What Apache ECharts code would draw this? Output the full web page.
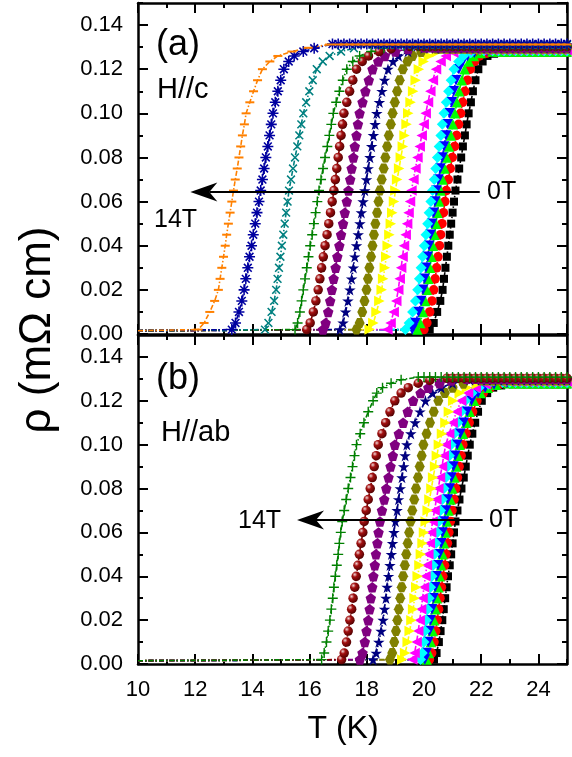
<!DOCTYPE html>
<html>
<head>
<meta charset="utf-8">
<script src="https://cdn.jsdelivr.net/npm/echarts@6/dist/echarts.min.js"></script>
<style>
html,body{margin:0;padding:0;background:#fff;}
#c{width:572px;height:757px;}
</style>
</head>
<body>
<div id="c"></div>
<script>
// ---------------- DATA ----------------
// axis ranges / tick labels
const X_MIN = 10, X_MAX = 25;
const Y_MIN = 0, Y_MAX = 0.15;
const X_MAJOR = 2, X_MINOR = 1;
const Y_MAJOR = 0.02, Y_MINOR = 0.01;

// resistivity levels (mOhm cm) at which the transition points are read
const RHO_LEVELS = [0.002,0.005,0.01,0.015,0.02,0.025,0.03,0.035,0.04,0.045,0.05,0.055,0.06,0.065,0.07,0.075,0.08,0.085,0.09,0.095,0.10,0.105,0.11,0.115,0.12];
const BASE_RHO = 0.0015;
// temperatures of the normal-state (plateau) samples
const PLAT_T = [15.6,15.8,16.0,16.2,16.4,16.6,16.8,17.0,17.2,17.4,17.6,17.8,18.0,18.2,18.4,18.6,18.8,19.0,19.2,19.4,19.6,19.8,20.0,20.2,20.4,20.6,20.8,21.0,21.2,21.4,21.6,21.8,22.0,22.2,22.4,22.6,22.8,23.0,23.2,23.4,23.6,23.8,24.0,24.2,24.4,24.6,24.8,25.0];

// (a) H//c : T (K) at each RHO_LEVELS value, curves from 0T to 14T
const TRANS_A = [
  [20.20,20.34,20.46,20.57,20.65,20.70,20.75,20.80,20.85,20.90,20.95,21.00,21.05,21.10,21.17,21.23,21.30,21.36,21.43,21.49,21.56,21.64,21.71,21.80,21.90],
  [20.00,20.10,20.20,20.28,20.34,20.39,20.44,20.49,20.54,20.58,20.63,20.68,20.73,20.78,20.85,20.92,20.99,21.07,21.14,21.21,21.28,21.35,21.43,21.52,21.62],
  [19.77,19.87,19.96,20.04,20.10,20.15,20.21,20.26,20.31,20.37,20.42,20.47,20.53,20.58,20.65,20.72,20.79,20.87,20.94,21.01,21.08,21.15,21.23,21.32,21.42],
  [19.59,19.70,19.81,19.90,19.97,20.02,20.07,20.13,20.18,20.23,20.28,20.34,20.39,20.44,20.51,20.57,20.64,20.70,20.77,20.83,20.90,20.97,21.04,21.12,21.22],
  [19.35,19.48,19.60,19.70,19.78,19.84,19.90,19.95,20.01,20.07,20.13,20.18,20.24,20.30,20.36,20.41,20.47,20.53,20.59,20.64,20.70,20.78,20.86,20.95,21.05],
  [18.72,18.83,18.94,19.03,19.10,19.15,19.20,19.25,19.30,19.36,19.41,19.46,19.51,19.56,19.63,19.70,19.77,19.85,19.92,19.99,20.06,20.14,20.22,20.31,20.42],
  [18.10,18.23,18.34,18.44,18.52,18.57,18.63,18.68,18.73,18.79,18.84,18.89,18.95,19.00,19.06,19.13,19.19,19.26,19.32,19.39,19.45,19.53,19.62,19.71,19.82],
  [17.64,17.75,17.84,17.92,17.99,18.04,18.09,18.15,18.20,18.25,18.30,18.36,18.41,18.46,18.52,18.59,18.65,18.71,18.77,18.84,18.90,18.98,19.06,19.15,19.26],
  [17.06,17.17,17.26,17.34,17.41,17.47,17.53,17.58,17.64,17.70,17.76,17.81,17.87,17.93,17.99,18.05,18.11,18.17,18.23,18.29,18.35,18.44,18.53,18.62,18.74],
  [16.47,16.56,16.65,16.72,16.78,16.84,16.91,16.97,17.04,17.10,17.17,17.23,17.30,17.36,17.42,17.47,17.53,17.58,17.64,17.69,17.75,17.85,17.95,18.07,18.20],
  [15.90,16.02,16.13,16.22,16.30,16.36,16.42,16.48,16.54,16.61,16.67,16.73,16.79,16.85,16.90,16.95,17.00,17.05,17.10,17.15,17.20,17.30,17.40,17.51,17.64],
  [15.49,15.58,15.66,15.72,15.78,15.84,15.90,15.96,16.02,16.09,16.15,16.21,16.27,16.33,16.40,16.47,16.54,16.62,16.69,16.76,16.83,16.93,17.04,17.16,17.30],
  [14.44,14.56,14.67,14.76,14.83,14.88,14.93,14.98,15.03,15.08,15.13,15.18,15.23,15.28,15.35,15.42,15.49,15.57,15.64,15.71,15.78,15.88,15.99,16.11,16.25],
  [13.28,13.41,13.53,13.63,13.71,13.77,13.84,13.90,13.97,14.03,14.10,14.16,14.23,14.29,14.35,14.41,14.47,14.54,14.60,14.66,14.72,14.80,14.89,14.99,15.10],
  [12.10,12.31,12.51,12.68,12.81,12.87,12.93,12.99,13.05,13.10,13.16,13.22,13.28,13.34,13.40,13.47,13.53,13.59,13.65,13.72,13.78,13.91,14.04,14.18,14.35]
];
// rounding into the normal state: [T, rho] points, the last one is the plateau value
const KNEE_A = [
  [[22.05,0.1235],[22.22,0.1260],[22.45,0.1270],[22.80,0.1275]],
  [[21.77,0.1235],[21.94,0.1260],[22.18,0.1272],[22.60,0.1278]],
  [[21.57,0.1235],[21.74,0.1260],[21.98,0.1273],[22.40,0.1280]],
  [[21.36,0.1235],[21.52,0.1260],[21.76,0.1274],[22.20,0.1282]],
  [[21.21,0.1235],[21.38,0.1260],[21.64,0.1275],[22.10,0.1284]],
  [[20.58,0.1235],[20.76,0.1260],[21.02,0.1276],[21.50,0.1287]],
  [[19.99,0.1235],[20.17,0.1260],[20.45,0.1277],[20.95,0.1290]],
  [[19.42,0.1235],[19.60,0.1260],[19.90,0.1278],[20.45,0.1293]],
  [[18.92,0.1235],[19.11,0.1260],[19.44,0.1280],[20.00,0.1296]],
  [[18.40,0.1235],[18.63,0.1260],[19.00,0.1280],[19.45,0.1292],[20.00,0.1300]],
  [[17.84,0.1235],[18.06,0.1260],[18.43,0.1280],[18.85,0.1293],[19.50,0.1303]],
  [[17.51,0.1235],[17.75,0.1260],[18.15,0.1280],[18.60,0.1295],[19.30,0.1306]],
  [[16.46,0.1235],[16.70,0.1260],[17.10,0.1280],[17.55,0.1295],[18.20,0.1310]],
  [[15.27,0.1235],[15.46,0.1260],[15.78,0.1280],[16.16,0.1295],[16.80,0.1314]],
  [[14.61,0.1235],[14.89,0.1260],[15.38,0.1280],[15.95,0.1297],[16.70,0.1312]]
];

// (b) H//ab
const TRANS_B = [
  [20.35,20.44,20.52,20.58,20.64,20.69,20.74,20.79,20.84,20.90,20.95,21.00,21.05,21.10,21.17,21.24,21.31,21.39,21.46,21.53,21.60,21.69,21.79,21.89,22.02],
  [20.19,20.27,20.35,20.41,20.46,20.51,20.56,20.61,20.66,20.72,20.77,20.82,20.87,20.92,20.98,21.05,21.11,21.17,21.23,21.30,21.36,21.47,21.58,21.70,21.85],
  [20.09,20.17,20.24,20.30,20.35,20.40,20.45,20.50,20.55,20.60,20.65,20.70,20.75,20.80,20.86,20.93,20.99,21.06,21.12,21.19,21.25,21.36,21.48,21.60,21.75],
  [20.03,20.09,20.15,20.19,20.23,20.28,20.33,20.39,20.44,20.49,20.54,20.60,20.65,20.70,20.77,20.83,20.90,20.96,21.03,21.09,21.16,21.27,21.39,21.51,21.66],
  [19.88,19.94,20.00,20.04,20.08,20.13,20.18,20.23,20.28,20.32,20.37,20.42,20.47,20.52,20.58,20.64,20.70,20.77,20.83,20.89,20.95,21.06,21.18,21.30,21.45],
  [19.59,19.67,19.74,19.80,19.85,19.90,19.95,20.00,20.05,20.10,20.15,20.20,20.25,20.30,20.37,20.43,20.50,20.56,20.63,20.69,20.76,20.88,21.00,21.14,21.30],
  [19.24,19.34,19.43,19.50,19.56,19.62,19.67,19.73,19.78,19.84,19.89,19.95,20.00,20.06,20.13,20.19,20.26,20.32,20.39,20.45,20.52,20.63,20.75,20.87,21.02],
  [18.81,18.89,18.96,19.02,19.07,19.12,19.17,19.22,19.27,19.33,19.38,19.43,19.48,19.53,19.59,19.66,19.72,19.79,19.85,19.92,19.98,20.09,20.21,20.34,20.50],
  [18.22,18.33,18.42,18.50,18.57,18.62,18.67,18.71,18.76,18.81,18.86,18.90,18.95,19.00,19.06,19.11,19.17,19.23,19.29,19.34,19.40,19.54,19.69,19.86,20.05],
  [17.76,17.85,17.93,17.99,18.05,18.10,18.14,18.19,18.23,18.28,18.32,18.37,18.41,18.46,18.53,18.61,18.68,18.76,18.83,18.91,18.98,19.12,19.27,19.43,19.62],
  [17.12,17.21,17.29,17.35,17.41,17.47,17.52,17.58,17.63,17.69,17.74,17.80,17.86,17.91,17.98,18.05,18.12,18.19,18.26,18.33,18.40,18.53,18.66,18.81,18.98],
  [16.42,16.51,16.59,16.65,16.71,16.76,16.81,16.85,16.90,16.95,17.00,17.04,17.09,17.14,17.21,17.28,17.35,17.43,17.50,17.57,17.64,17.77,17.90,18.05,18.22]
];
const KNEE_B = [
  [[22.21,0.1235],[22.42,0.1260],[22.70,0.1270],[23.10,0.1275]],
  [[22.07,0.1235],[22.32,0.1260],[22.60,0.1272],[23.00,0.1278]],
  [[21.98,0.1235],[22.23,0.1260],[22.52,0.1273],[22.95,0.1280]],
  [[21.89,0.1235],[22.14,0.1260],[22.45,0.1274],[22.90,0.1282]],
  [[21.68,0.1235],[21.93,0.1260],[22.25,0.1275],[22.75,0.1284]],
  [[21.54,0.1235],[21.81,0.1260],[22.15,0.1276],[22.70,0.1287]],
  [[21.25,0.1235],[21.50,0.1260],[21.85,0.1277],[22.45,0.1290]],
  [[20.73,0.1235],[21.00,0.1260],[21.38,0.1278],[22.00,0.1293]],
  [[20.30,0.1235],[20.60,0.1260],[21.00,0.1280],[21.60,0.1296]],
  [[19.88,0.1235],[20.15,0.1260],[20.55,0.1280],[20.95,0.1292],[21.50,0.1300]],
  [[19.20,0.1235],[19.45,0.1260],[19.80,0.1280],[20.20,0.1293],[20.80,0.1303]],
  [[18.35,0.1235],[18.55,0.1260],[18.85,0.1280],[19.20,0.1296],[19.80,0.1308]]
];

// annotation arrows (data coordinates): from 0T side to 14T side
const ARROW_A = {from:[21.95, 0.0643], to:[11.83, 0.0643]};
const ARROW_B = {from:[22.05, 0.0657], to:[15.56, 0.0657]};

// ---------------- STYLES ----------------
const FONT = "'Liberation Sans', Arial, Helvetica, sans-serif";
const P_HEX = 'path://M0,5 L2.5,0.67 L7.5,0.67 L10,5 L7.5,9.33 L2.5,9.33 Z';
const P_STAR = 'path://M50,0 L61.2,34.5 L97.6,34.5 L68.2,55.9 L79.4,90.5 L50,69.1 L20.6,90.5 L31.8,55.9 L2.4,34.5 L38.8,34.5 Z';
const P_PENT = 'path://M50,0 L97.6,34.5 L79.4,90.5 L20.6,90.5 L2.4,34.5 Z';
const P_PLUS = 'path://M4.3,0H5.7V4.3H10V5.7H5.7V10H4.3V5.7H0V4.3H4.3Z';
const P_AST = 'path://M4.3,0H5.7V10H4.3Z M0,4.3H10V5.7H0Z M1.96,0.96L9.04,8.04L8.04,9.04L0.96,1.96Z M8.04,0.96L9.04,1.96L1.96,9.04L0.96,8.04Z';
const SPHERE = {type:'radial', x:0.35, y:0.32, r:0.75, colorStops:[{offset:0,color:'#f2d6d6'},{offset:0.35,color:'#a31010'},{offset:1,color:'#4a0000'}]};
const STYLES = [
  {color:'#000000', symbol:'rect', size:8},
  {color:'#ff0000', symbol:'circle', size:9.5},
  {color:'#00ff00', symbol:'triangle', size:10.5},
  {color:'#0000ff', symbol:'triangle', size:10.5, rotate:180},
  {color:'#00ffff', symbol:'diamond', size:11},
  {color:'#ff00ff', symbol:'triangle', size:10.5, rotate:90},
  {color:'#ffff00', symbol:'triangle', size:10.5, rotate:-90},
  {color:'#808000', symbol:P_HEX, size:10},
  {color:'#000080', symbol:P_STAR, size:11.5},
  {color:'#800080', symbol:P_PENT, size:10.5},
  {color:'#800000', symbol:'circle', size:9.5, fill:SPHERE},
  {color:'#008000', symbol:P_PLUS, size:10},
  {color:'#008080', symbol:P_PLUS, size:11, rotate:45},
  {color:'#0000a0', symbol:P_AST, size:11},
  {color:'#ff8000', symbol:'rect', size:[9,2]}
];

// ---------------- BUILD ----------------
const chart = echarts.init(document.getElementById('c'), null, {renderer:'canvas'});

function xAx(grid, pos, interval, len, line, labels) {
  return {type:'value', gridIndex:grid, position:pos, min:X_MIN, max:X_MAX, interval:interval,
    axisLine:{show:line, onZero:false, lineStyle:{color:'#000', width:2.5}},
    axisTick:{show:true, inside:true, length:len, lineStyle:{color:'#000', width:2}},
    axisLabel:{show:labels, color:'#000', fontSize:22, fontFamily:FONT, margin:15, showMaxLabel:false},
    splitLine:{show:false}, minorTick:{show:false}};
}
function yAx(grid, pos, interval, len, line, labels) {
  return {type:'value', gridIndex:grid, position:pos, min:Y_MIN, max:Y_MAX, interval:interval,
    axisLine:{show:line, onZero:false, lineStyle:{color:'#000', width:2.5}},
    axisTick:{show:true, inside:true, length:len, lineStyle:{color:'#000', width:2}},
    axisLabel:{show:labels, color:'#000', fontSize:22, fontFamily:FONT, margin:15, showMaxLabel:false,
      formatter:function(v){return v.toFixed(2);}},
    splitLine:{show:false}, minorTick:{show:false}};
}
const xAxes = [], yAxes = [];
[0,1].forEach(function(g){
  xAxes.push(xAx(g,'bottom',X_MAJOR,10,true,g===1));
  xAxes.push(xAx(g,'bottom',X_MINOR,5,false,false));
  xAxes.push(xAx(g,'top',X_MAJOR,10,true,false));
  xAxes.push(xAx(g,'top',X_MINOR,5,false,false));
  yAxes.push(yAx(g,'left',Y_MAJOR,10,true,true));
  yAxes.push(yAx(g,'left',Y_MINOR,5,false,false));
  yAxes.push(yAx(g,'right',Y_MAJOR,10,true,false));
  yAxes.push(yAx(g,'right',Y_MINOR,5,false,false));
});

function curve(name, grid, trans, knee, st) {
  const data = [{value:[X_MIN, BASE_RHO], symbol:'none'}];
  trans.forEach(function(t,i){ data.push([t, RHO_LEVELS[i]]); });
  knee.forEach(function(p){ data.push(p); });
  const last = knee[knee.length-1];
  PLAT_T.forEach(function(t){ if (t > last[0] + 0.15) data.push([t, last[1]]); });
  return {type:'line', name:name, xAxisIndex:grid*4, yAxisIndex:grid*4, data:data,
    symbol:st.symbol, symbolSize:st.size, symbolRotate:st.rotate||0, showAllSymbol:true,
    itemStyle:{color:st.fill||st.color, borderWidth:0},
    lineStyle:{color:st.color, width:1.6, type:[5,2,1.5,2]},
    emphasis:{disabled:true}, silent:true, animation:false, clip:true};
}
const series = [];
TRANS_A.forEach(function(tr,i){ series.push(curve('H//c '+i, 0, tr, KNEE_A[i], STYLES[i])); });
TRANS_B.forEach(function(tr,i){ series.push(curve('H//ab '+i, 1, tr, KNEE_B[i], STYLES[i])); });

chart.setOption({
  backgroundColor:'#ffffff',
  animation:false,
  grid:[
    {left:138, right:5, top:3, height:331},
    {left:138, right:5, top:335, height:329}
  ],
  xAxis:xAxes,
  yAxis:yAxes,
  series:series
});

function arrow(seriesIndex, a) {
  const p0 = chart.convertToPixel({seriesIndex:seriesIndex}, a.from);
  const p1 = chart.convertToPixel({seriesIndex:seriesIndex}, a.to);
  const dir = p1[0] < p0[0] ? -1 : 1;
  const L = 27, W = 9.5, N = 8;
  return [
    {type:'line', z:100, shape:{x1:p0[0], y1:p0[1], x2:p1[0]-dir*(L-N), y2:p1[1]}, style:{stroke:'#000', lineWidth:2}},
    {type:'polygon', z:100, shape:{points:[[p1[0],p1[1]],[p1[0]-dir*L,p1[1]-W],[p1[0]-dir*(L-N),p1[1]],[p1[0]-dir*L,p1[1]+W]]}, style:{fill:'#000'}}
  ];
}
function txt(s, x, y, size, align, rot) {
  return {type:'text', z:100, x:x, y:y, rotation:rot||0,
    style:{text:s, fill:'#000', font: size+'px '+FONT, textAlign:align||'left', textVerticalAlign:'middle'}};
}
const g = [].concat(
  arrow(0, ARROW_A), arrow(TRANS_A.length, ARROW_B),
  [
    txt('(a)', 156, 45, 36),
    txt('H//c', 157, 90, 29),
    txt('(b)', 156, 379, 36),
    txt('H//ab', 161, 433, 29),
    txt('14T', 154, 220, 25),
    txt('0T', 487, 192, 25),
    txt('14T', 238, 521, 25),
    txt('0T', 489, 520, 25),
    txt('T (K)', 343, 729, 32, 'center'),
    txt('\u03c1 (m\u03a9 cm)', 38, 330, 44, 'center', Math.PI/2)
  ]
);
chart.setOption({graphic:g});
</script>
</body>
</html>
